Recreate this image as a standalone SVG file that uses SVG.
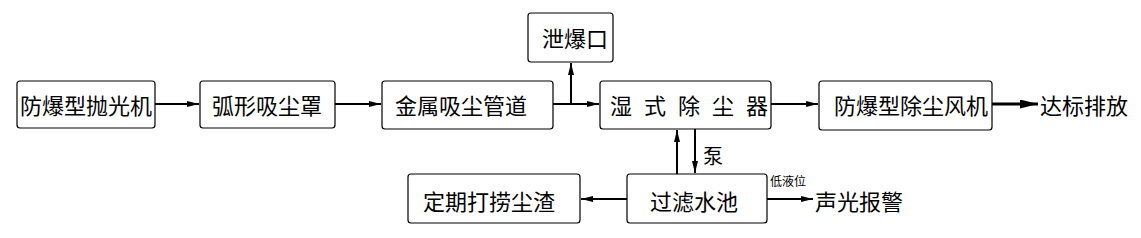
<svg xmlns="http://www.w3.org/2000/svg" width="1141" height="238" viewBox="0 0 1141 238">
<defs>
<marker id="ah" viewBox="0 0 12 6" refX="12" refY="3" markerWidth="6" markerHeight="3" orient="auto" markerUnits="strokeWidth">
<path d="M0,0 L12,3 L0,6 Z" fill="#000"/>
</marker>
</defs>
<style>
.box{fill:#fff;stroke:#000;stroke-width:1.2}
.t{font-family:"Noto Sans CJK SC","Noto Sans CJK JP",sans-serif;font-size:22px;fill:#000;text-anchor:middle;dominant-baseline:central}
.s{font-family:"Noto Sans CJK SC","Noto Sans CJK JP",sans-serif;font-size:12px;fill:#000;dominant-baseline:central}
.c{fill:none;stroke:#000;stroke-width:2}
</style>
<rect width="1141" height="238" fill="#fff"/>
<g id="connectors">
<line class="c" x1="155" y1="104" x2="199" y2="104" marker-end="url(#ah)"/>
<line class="c" x1="335" y1="104" x2="381" y2="104" marker-end="url(#ah)"/>
<line class="c" x1="553" y1="104" x2="599" y2="104" marker-end="url(#ah)"/>
<polyline class="c" points="571,104 571,63" marker-end="url(#ah)"/>
<line class="c" x1="770" y1="104" x2="818" y2="104" marker-end="url(#ah)"/>
<line class="c" x1="992" y1="104" x2="1038" y2="104" style="stroke-width:3" marker-end="url(#ah)"/>
<line class="c" x1="677" y1="174" x2="677" y2="130" marker-end="url(#ah)"/>
<line class="c" x1="695" y1="129" x2="695" y2="173" marker-end="url(#ah)"/>
<line class="c" x1="627" y1="199" x2="581" y2="199" marker-end="url(#ah)"/>
<line class="c" x1="767" y1="199" x2="813" y2="199" marker-end="url(#ah)"/>
<text class="t" x="713" y="155" style="font-size:20px">泵</text>
<text class="s" x="770" y="180">低液位</text>
</g>
<g id="n1"><rect class="box" x="17" y="81" width="138" height="47" rx="3"/><text class="t" x="86" y="104">防爆型抛光机</text></g>
<g id="n2"><rect class="box" x="200" y="81" width="135" height="47" rx="3"/><text class="t" x="267" y="104">弧形吸尘罩</text></g>
<g id="n3"><rect class="box" x="382" y="81" width="171" height="48" rx="3"/><text class="t" x="461" y="104">金属吸尘管道</text></g>
<g id="n4"><rect class="box" x="528" y="13" width="85" height="49" rx="3"/><text class="t" x="575" y="37">泄爆口</text></g>
<g id="n5"><rect class="box" x="600" y="81" width="171" height="48" rx="3"/><text class="t" x="689" y="104" textLength="158" lengthAdjust="spacing">湿 式 除 尘 器</text></g>
<g id="n6"><rect class="box" x="819" y="81" width="173" height="49" rx="3"/><text class="t" x="911" y="104">防爆型除尘风机</text></g>
<g id="n7"><text class="t" x="1084" y="104">达标排放</text></g>
<g id="n8"><rect class="box" x="408" y="174" width="172" height="49" rx="3"/><text class="t" x="489" y="200">定期打捞尘渣</text></g>
<g id="n9"><rect class="box" x="627" y="174" width="140" height="49" rx="3"/><text class="t" x="694" y="200">过滤水池</text></g>
<g id="n10"><text class="t" x="859" y="200">声光报警</text></g>
</svg>
